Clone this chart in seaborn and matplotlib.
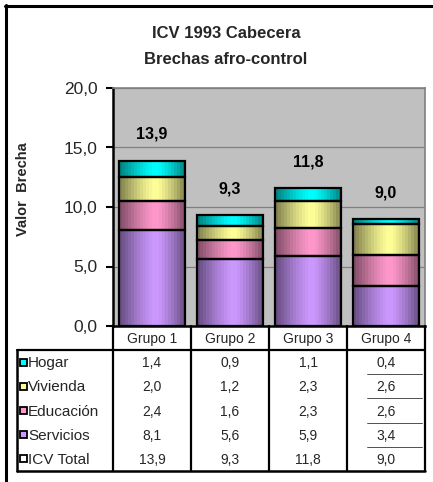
import numpy as np
import matplotlib
matplotlib.use("Agg")
import matplotlib.pyplot as plt
from matplotlib.patches import Rectangle
import seaborn as sns

# data
groups = ["Grupo 1", "Grupo 2", "Grupo 3", "Grupo 4"]
series = ["Servicios", "Educación", "Vivienda", "Hogar"]  # bottom -> top
servicios = [8.1, 5.6, 5.9, 3.4]
educacion = [2.4, 1.6, 2.3, 2.6]
vivienda = [2.0, 1.2, 2.3, 2.6]
hogar = [1.4, 0.9, 1.1, 0.4]
icv_total = [13.9, 9.3, 11.8, 9.0]
colors = ["#CC99FF", "#FF99CC", "#FFFF99", "#00FFFF"]
table_rows = ["Hogar", "Vivienda", "Educación", "Servicios", "ICV Total"]
table_colors = ["#00FFFF", "#FFFF99", "#FF99CC", "#CC99FF", "#FFFFFF"]

W, H = 433, 482


def fmt(v):
    return f"{v:.1f}".replace(".", ",")


sns.set_theme(style="white")
plt.rcParams["font.family"] = ["Liberation Sans", "DejaVu Sans"]

fig = plt.figure(figsize=(W / 100, H / 100), dpi=100)
fig.patch.set_facecolor("white")

# plot area in pixel terms
left, right, top, bottom = 113, 425, 88, 326
ax = fig.add_axes([left / W, 1 - bottom / H, (right - left) / W, (bottom - top) / H])
ax.set_facecolor("#C0C0C0")

layers = [servicios, educacion, vivienda, hogar]
tops = np.cumsum(np.array(layers), axis=0)

# overlapping bars, tallest first (classic stacked trick)
for i in range(len(layers) - 1, -1, -1):
    sns.barplot(x=groups, y=tops[i], color=colors[i], saturation=1, width=0.85,
                linewidth=0, ax=ax, zorder=2)

# cylinder shading + outlines per visible segment
n_bands = 22
t = (np.arange(n_bands) + 0.5) / n_bands
peak = 0.55
d = np.where(t < peak, (peak - t) / peak, (t - peak) / (1 - peak))
alpha = 0.52 * d ** 1.3
shade = np.zeros((1, n_bands, 4))
shade[0, :, 3] = alpha

bar_patches = ax.patches[:len(groups)]  # first call -> tallest stack
for j, p in enumerate(bar_patches):
    x0, w = p.get_x(), p.get_width()
    for i in range(len(layers)):
        y0 = tops[i][j] - layers[i][j]
        y1 = tops[i][j]
        ax.imshow(shade, extent=(x0, x0 + w, y0, y1), aspect="auto",
                  interpolation="nearest", zorder=3)
        ax.add_patch(Rectangle((x0, y0), w, y1 - y0, fill=False, ec="black",
                               lw=1.6, zorder=4))

# total labels
for j, v in enumerate(icv_total):
    ax.annotate(fmt(v), (j, tops[-1][j]), xytext=(0, 19), textcoords="offset points",
                ha="center", va="center", fontsize=11.5, fontweight="bold", color="black")

ax.set_xlim(-0.5, len(groups) - 0.5)
ax.set_ylim(0, 20)
ax.set_yticks([0, 5, 10, 15, 20])
ax.set_yticklabels([fmt(v) for v in [0, 5, 10, 15, 20]], fontsize=12.5)
ax.yaxis.grid(True, color="#808080", lw=0.9)
ax.set_axisbelow(True)
ax.tick_params(axis="y", direction="out", length=5, width=1.5, color="black", pad=6, left=True)
ax.set_xticks([])
ax.set_xlabel("")
ax.set_ylabel("")
for s in ["top", "right"]:
    ax.spines[s].set_color("#808080")
    ax.spines[s].set_linewidth(1.2)
for s in ["left", "bottom"]:
    ax.spines[s].set_color("black")
    ax.spines[s].set_linewidth(1.8)

# overlay axes in pixel coordinates for frame, titles and data table
ov2 = fig.add_axes([0, 0, 1, 1], zorder=5)
ov2.set_xlim(0, W)
ov2.set_ylim(H, 0)
ov2.axis("off")
ov2.patch.set_alpha(0)

ov2.plot([5, W], [6, 6], color="black", lw=2.2)
ov2.plot([6, 6], [5, H], color="black", lw=2.2)

ov2.text(226, 34, "ICV 1993 Cabecera", ha="center", va="center", fontsize=12, fontweight="bold")
ov2.text(226, 60, "Brechas afro-control", ha="center", va="center", fontsize=12, fontweight="bold")
ov2.text(23, 189, "Valor  Brecha", rotation=90, ha="center", va="center",
         fontsize=10.5, fontweight="bold")

# data table
col_w = (right - left) / len(groups)
col_edges = [left + col_w * k for k in range(len(groups) + 1)]
row_top, row_bot = 350, 471
row_h = (row_bot - row_top) / len(table_rows)
tl = 17

for x in col_edges:
    ov2.plot([x, x], [bottom, row_bot], color="black", lw=1.6)
ov2.plot([tl, right], [row_top, row_top], color="black", lw=1.6)
ov2.plot([tl, right], [row_bot, row_bot], color="black", lw=1.8)
ov2.plot([tl, tl], [row_top, row_bot], color="black", lw=1.8)
for k in range(1, len(table_rows)):
    y = row_top + row_h * k
    ov2.plot([col_edges[-2] + 20, right - 3], [y, y], color="#333333", lw=0.6)

for j, g in enumerate(groups):
    ov2.text(left + col_w * (j + 0.5), (bottom + row_top) / 2 + 1, g,
             ha="center", va="center", fontsize=10)

table_values = [hogar, vivienda, educacion, servicios, icv_total]
for r, (name, c, vals) in enumerate(zip(table_rows, table_colors, table_values)):
    yc = row_top + row_h * (r + 0.5)
    ov2.add_patch(Rectangle((19.5, yc - 3.5), 7, 7, fc=c, ec="black", lw=1.3))
    ov2.text(28, yc + 1, name, ha="left", va="center", fontsize=11)
    for j, v in enumerate(vals):
        ov2.text(left + col_w * (j + 0.5), yc + 1, fmt(v), ha="center", va="center",
                 fontsize=10)

fig.savefig("out.png", dpi=100)
